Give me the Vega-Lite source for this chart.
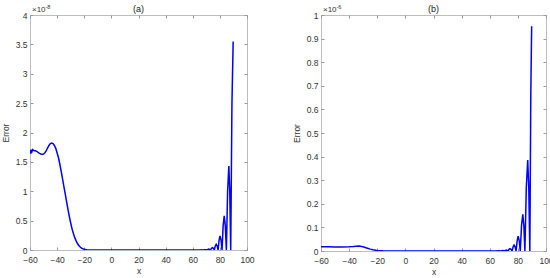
{
  "$schema": "https://vega.github.io/schema/vega-lite/v6.json",
  "padding": {"left": 0, "top": 4, "right": 3, "bottom": 0},
  "spacing": 36,
  "background": "white",
  "config": {
    "font": "Liberation Sans",
    "view": {"stroke": "#bdbdbd", "strokeWidth": 1},
    "axis": {"grid": false, "domain": false, "labelFlush": false, "tickColor": "#9a9a9a", "tickSize": -3, "labelColor": "#333333", "labelFontSize": 8.5, "titleColor": "#333333", "titleFontSize": 8.5, "titleFontWeight": "normal", "labelFont": "Liberation Sans", "titleFont": "Liberation Sans"}
  },
  "datasets": {
    "a": [
      {"x": -60, "y": 1.65}, {"x": -59.7, "y": 1.70}, {"x": -59.4, "y": 1.64}, {"x": -59, "y": 1.71}, {"x": -58.5, "y": 1.68},
      {"x": -58, "y": 1.71}, {"x": -57, "y": 1.69}, {"x": -56, "y": 1.69}, {"x": -55, "y": 1.68}, {"x": -54, "y": 1.66},
      {"x": -53, "y": 1.645}, {"x": -52, "y": 1.635}, {"x": -51, "y": 1.63}, {"x": -50, "y": 1.635}, {"x": -49, "y": 1.655},
      {"x": -48, "y": 1.69}, {"x": -47, "y": 1.74}, {"x": -46, "y": 1.78}, {"x": -45, "y": 1.81}, {"x": -44, "y": 1.82},
      {"x": -43, "y": 1.81}, {"x": -42, "y": 1.78}, {"x": -41, "y": 1.73}, {"x": -40, "y": 1.65}, {"x": -39, "y": 1.57},
      {"x": -38, "y": 1.46}, {"x": -37, "y": 1.34}, {"x": -36, "y": 1.21}, {"x": -35, "y": 1.08}, {"x": -34, "y": 0.95},
      {"x": -33, "y": 0.82}, {"x": -32, "y": 0.69}, {"x": -31, "y": 0.57}, {"x": -30, "y": 0.46}, {"x": -29, "y": 0.36},
      {"x": -28, "y": 0.28}, {"x": -27, "y": 0.21}, {"x": -26, "y": 0.155}, {"x": -25, "y": 0.11}, {"x": -24, "y": 0.076},
      {"x": -23, "y": 0.05}, {"x": -22, "y": 0.033}, {"x": -21, "y": 0.021}, {"x": -20, "y": 0.013}, {"x": -18, "y": 0.005},
      {"x": -16, "y": 0.002}, {"x": -13, "y": 0.0008}, {"x": -10, "y": 0.0004}, {"x": 0, "y": 0.0003}, {"x": 20, "y": 0.0003},
      {"x": 40, "y": 0.0004}, {"x": 55, "y": 0.0008}, {"x": 60, "y": 0.0012}, {"x": 64, "y": 0.0015},
      {"x": 65.9, "y": 0.0018}, {"x": 66.6, "y": 0.0025}, {"x": 67.3, "y": 0.0012}, {"x": 67.9, "y": 0},
      {"x": 68.5, "y": 0.004}, {"x": 69.2, "y": 0.006}, {"x": 69.9, "y": 0.004}, {"x": 70.5, "y": 0},
      {"x": 71.1, "y": 0.011}, {"x": 71.8, "y": 0.016}, {"x": 72.5, "y": 0.011}, {"x": 73.1, "y": 0},
      {"x": 73.8, "y": 0.028}, {"x": 74.5, "y": 0.04}, {"x": 75.2, "y": 0.028}, {"x": 75.9, "y": 0},
      {"x": 76.6, "y": 0.068}, {"x": 77.3, "y": 0.097}, {"x": 78.0, "y": 0.068}, {"x": 78.7, "y": 0},
      {"x": 79.4, "y": 0.17}, {"x": 80.1, "y": 0.24}, {"x": 80.85, "y": 0.17}, {"x": 81.6, "y": 0},
      {"x": 82.4, "y": 0.41}, {"x": 83.2, "y": 0.58}, {"x": 84.0, "y": 0.41}, {"x": 84.8, "y": 0},
      {"x": 85.7, "y": 1.0}, {"x": 86.6, "y": 1.43}, {"x": 87.3, "y": 1.0}, {"x": 88.0, "y": 0},
      {"x": 88.9, "y": 2.5}, {"x": 89.8, "y": 3.55}
    ],
    "b": [
      {"x": -60, "y": 0.018}, {"x": -55, "y": 0.0175}, {"x": -50, "y": 0.017}, {"x": -45, "y": 0.017}, {"x": -40, "y": 0.0175},
      {"x": -37, "y": 0.019}, {"x": -35, "y": 0.0205}, {"x": -33, "y": 0.021}, {"x": -31, "y": 0.019}, {"x": -29, "y": 0.016},
      {"x": -27, "y": 0.012}, {"x": -25, "y": 0.008}, {"x": -23, "y": 0.005}, {"x": -21, "y": 0.003}, {"x": -19, "y": 0.0015},
      {"x": -16, "y": 0.0006}, {"x": -10, "y": 0.0002}, {"x": 0, "y": 0.0001}, {"x": 40, "y": 0.0001}, {"x": 60, "y": 0.0003},
      {"x": 64, "y": 0.0005}, {"x": 66.6, "y": 0.0007}, {"x": 67.9, "y": 0},
      {"x": 68.5, "y": 0.0011}, {"x": 69.2, "y": 0.0016}, {"x": 69.9, "y": 0.0011}, {"x": 70.5, "y": 0},
      {"x": 71.1, "y": 0.0028}, {"x": 71.8, "y": 0.004}, {"x": 72.5, "y": 0.0028}, {"x": 73.1, "y": 0},
      {"x": 73.7, "y": 0.007}, {"x": 74.4, "y": 0.01}, {"x": 75.1, "y": 0.007}, {"x": 75.9, "y": 0},
      {"x": 76.6, "y": 0.0175}, {"x": 77.3, "y": 0.025}, {"x": 78.0, "y": 0.0175}, {"x": 78.7, "y": 0},
      {"x": 79.5, "y": 0.044}, {"x": 80.2, "y": 0.063}, {"x": 80.95, "y": 0.044}, {"x": 81.7, "y": 0},
      {"x": 82.6, "y": 0.108}, {"x": 83.5, "y": 0.155}, {"x": 84.25, "y": 0.108}, {"x": 85.0, "y": 0},
      {"x": 86.0, "y": 0.27}, {"x": 87.0, "y": 0.385}, {"x": 87.75, "y": 0.27}, {"x": 88.5, "y": 0},
      {"x": 89.2, "y": 0.67}, {"x": 89.8, "y": 0.952}
    ],
    "one": [{"k": 1}]
  },
  "hconcat": [
    {
      "width": 217,
      "height": 235,
      "data": {"name": "a"},
      "layer": [
        {
          "mark": {"type": "line", "color": "#0000ff", "strokeWidth": 1.5, "clip": true},
          "encoding": {
            "x": {"field": "x", "type": "quantitative", "scale": {"domain": [-60, 100], "nice": false}, "axis": {"values": [-60, -40, -20, 0, 20, 40, 60, 80, 100], "title": "x", "labelPadding": 8, "titlePadding": 3}},
            "y": {"field": "y", "type": "quantitative", "scale": {"domain": [0, 4], "nice": false}, "axis": {"values": [0, 0.5, 1, 1.5, 2, 2.5, 3, 3.5, 4], "format": "~g", "title": "Error", "labelPadding": 6, "titlePadding": 5}}
          }
        },
        {
          "mark": {"type": "point", "opacity": 0},
          "encoding": {
            "x": {"field": "x", "type": "quantitative", "axis": {"orient": "top", "values": [-60, -40, -20, 0, 20, 40, 60, 80, 100], "labels": false, "title": null}},
            "y": {"field": "y", "type": "quantitative", "axis": {"orient": "right", "values": [0, 0.5, 1, 1.5, 2, 2.5, 3, 3.5, 4], "labels": false, "title": null}}
          }
        },
        {
          "data": {"name": "one"},
          "mark": {"type": "text", "align": "center", "baseline": "bottom", "dy": -1.5, "fontSize": 9, "color": "#222222"},
          "encoding": {"x": {"datum": 20, "axis": null}, "y": {"datum": 4, "axis": null}, "text": {"value": "(a)"}}
        },
        {
          "data": {"name": "one"},
          "mark": {"type": "text", "align": "left", "baseline": "bottom", "dx": 2, "dy": -1, "fontSize": 8, "color": "#333333"},
          "encoding": {"x": {"datum": -60, "axis": null}, "y": {"datum": 4, "axis": null}, "text": {"value": "×10"}}
        },
        {
          "data": {"name": "one"},
          "mark": {"type": "text", "align": "left", "baseline": "bottom", "dx": 15.5, "dy": -5, "fontSize": 5.5, "color": "#333333"},
          "encoding": {"x": {"datum": -60, "axis": null}, "y": {"datum": 4, "axis": null}, "text": {"value": "-8"}}
        }
      ],
      "resolve": {"axis": {"x": "independent", "y": "independent"}}
    },
    {
      "width": 225,
      "height": 236,
      "data": {"name": "b"},
      "layer": [
        {
          "mark": {"type": "line", "color": "#0000ff", "strokeWidth": 1.5, "clip": true},
          "encoding": {
            "x": {"field": "x", "type": "quantitative", "scale": {"domain": [-60, 100], "nice": false}, "axis": {"values": [-60, -40, -20, 0, 20, 40, 60, 80, 100], "title": "x", "labelPadding": 8, "titlePadding": 3}},
            "y": {"field": "y", "type": "quantitative", "scale": {"domain": [0, 1], "nice": false}, "axis": {"values": [0, 0.1, 0.2, 0.3, 0.4, 0.5, 0.6, 0.7, 0.8, 0.9, 1], "format": "~g", "title": "Error", "labelPadding": 6, "titlePadding": 5}}
          }
        },
        {
          "mark": {"type": "point", "opacity": 0},
          "encoding": {
            "x": {"field": "x", "type": "quantitative", "axis": {"orient": "top", "values": [-60, -40, -20, 0, 20, 40, 60, 80, 100], "labels": false, "title": null}},
            "y": {"field": "y", "type": "quantitative", "axis": {"orient": "right", "values": [0, 0.1, 0.2, 0.3, 0.4, 0.5, 0.6, 0.7, 0.8, 0.9, 1], "labels": false, "title": null}}
          }
        },
        {
          "data": {"name": "one"},
          "mark": {"type": "text", "align": "center", "baseline": "bottom", "dy": -1.5, "fontSize": 9, "color": "#222222"},
          "encoding": {"x": {"datum": 20, "axis": null}, "y": {"datum": 1, "axis": null}, "text": {"value": "(b)"}}
        },
        {
          "data": {"name": "one"},
          "mark": {"type": "text", "align": "left", "baseline": "bottom", "dx": 2, "dy": -1, "fontSize": 8, "color": "#333333"},
          "encoding": {"x": {"datum": -60, "axis": null}, "y": {"datum": 1, "axis": null}, "text": {"value": "×10"}}
        },
        {
          "data": {"name": "one"},
          "mark": {"type": "text", "align": "left", "baseline": "bottom", "dx": 15.5, "dy": -5, "fontSize": 5.5, "color": "#333333"},
          "encoding": {"x": {"datum": -60, "axis": null}, "y": {"datum": 1, "axis": null}, "text": {"value": "-6"}}
        }
      ],
      "resolve": {"axis": {"x": "independent", "y": "independent"}}
    }
  ]
}
